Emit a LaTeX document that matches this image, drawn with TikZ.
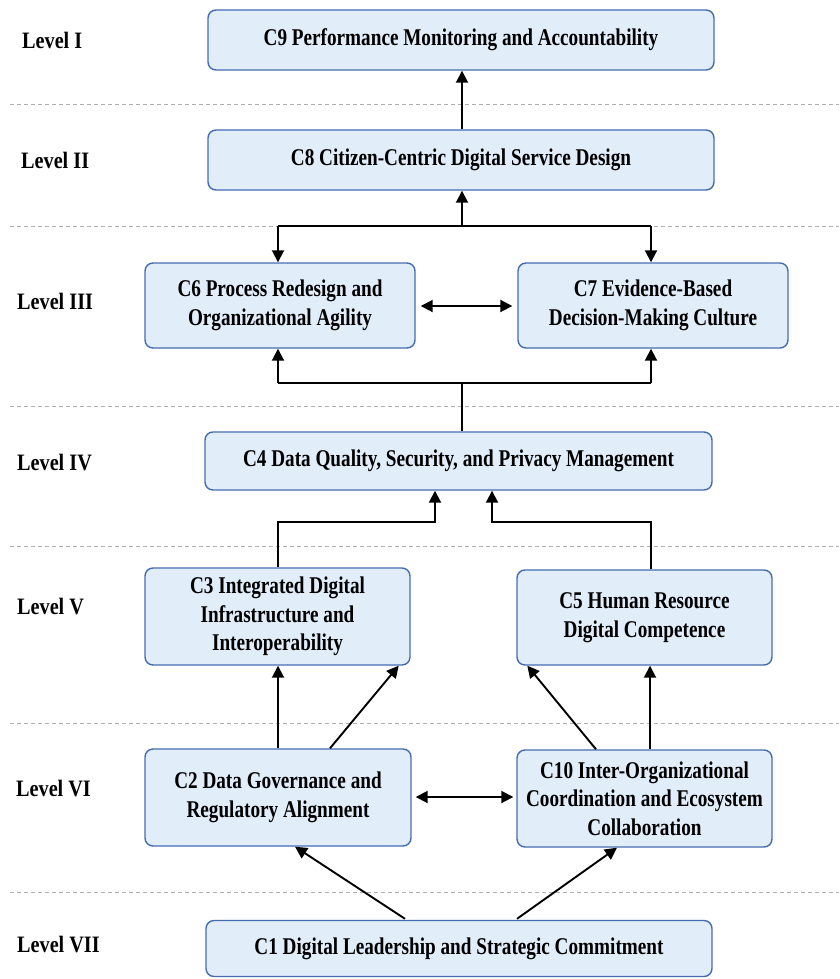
\documentclass[tikz,border=0pt]{standalone}
\usepackage{fontspec}
\setmainfont{Liberation Serif}[FakeStretch=0.8]
\newfontfamily\lvlfont{Liberation Serif}[FakeStretch=0.86]
\usetikzlibrary{arrows.meta,calc}
\definecolor{boxfill}{RGB}{226,237,250}
\definecolor{boxblue}{RGB}{70,108,176}
\definecolor{sepgray}{RGB}{175,175,175}
\begin{document}
\begin{tikzpicture}[x=1pt,y=-1pt,
  box/.style={draw=boxblue, line width=1.4pt, fill=boxfill, rounded corners=8pt, align=center,
    font=\fontsize{24}{28.5}\selectfont\bfseries, inner sep=0pt},
  conn/.style={line width=1.9pt, -{Triangle[length=12pt,width=12pt]}},
  plain/.style={line width=1.9pt},
  twoway/.style={line width=1.9pt, {Triangle[length=12pt,width=12pt]}-{Triangle[length=12pt,width=12pt]}},
  sep/.style={draw=sepgray, line width=1pt, dash pattern=on 4pt off 3pt},
  lvl/.style={anchor=west, inner sep=0pt, font=\lvlfont\fontsize{23.5}{26}\selectfont\bfseries}]
\useasboundingbox (0,0) rectangle (839,979);
\fill[white] (0,0) rectangle (839,979);

% separators
\foreach \yy in {105,226,406,546,723,892}
  \draw[sep] (10,\yy) -- (839,\yy);

% level labels
\node[lvl] (l1) at (22,40) {Level I};
\node[lvl] (l2) at (21,160) {Level II};
\node[lvl] (l3) at (17,301) {Level III};
\node[lvl] (l4) at (17,463) {Level IV};
\node[lvl] (l5) at (17,607) {Level V};
\node[lvl] (l6) at (16,789) {Level VI};
\node[lvl] (l7) at (17,945) {Level VII};

% boxes
\node[box, minimum width=506pt, minimum height=60pt] (c9) at (461,40) {C9 Performance Monitoring and Accountability};
\node[box, minimum width=506pt, minimum height=60pt] (c8) at (461,160) {C8 Citizen-Centric Digital Service Design};
\node[box, minimum width=270pt, minimum height=85pt] (c6) at (280,305.5) {C6 Process Redesign and\\Organizational Agility};
\node[box, minimum width=270pt, minimum height=85pt] (c7) at (653,305.5) {C7 Evidence-Based\\Decision-Making Culture};
\node[box, minimum width=507pt, minimum height=58pt] (c4) at (458.5,461) {C4 Data Quality, Security, and Privacy Management};
\node[box, minimum width=265pt, minimum height=97pt] (c3) at (277.5,616.5) {C3 Integrated Digital\\Infrastructure and\\Interoperability};
\node[box, minimum width=255pt, minimum height=95pt] (c5) at (644.5,617.5) {C5 Human Resource\\Digital Competence};
\node[box, minimum width=266pt, minimum height=97pt] (c2) at (278,797.5) {C2 Data Governance and\\Regulatory Alignment};
\node[box, minimum width=255pt, minimum height=97pt] (c10) at (644.5,798.5) {C10 Inter-Organizational\\Coordination and Ecosystem\\Collaboration};
\node[box, minimum width=506pt, minimum height=56pt] (c1) at (459,948.5) {C1 Digital Leadership and Strategic Commitment};

% junction coordinates
\coordinate (jA) at (462,226);
\coordinate (jAl) at (278,226);
\coordinate (jAr) at (651,226);
\coordinate (jB) at (462,383);
\coordinate (jBl) at (278,383);
\coordinate (jBr) at (651,383);
\coordinate (jCl) at (278,522);
\coordinate (jCr) at (651,522);
\coordinate (hIII) at (0,306);
\coordinate (hVI) at (0,797);

% Level II -> I
\draw[conn] (c8.north -| 462,0) -- (c9.south -| 462,0);
% Level III -> II
\draw[conn] (jA) -- (c8.south -| jA);
\draw[plain] (jAl) -- (jAr);
\draw[conn] (jAl) -- (c6.north -| jAl);
\draw[conn] (jAr) -- (c7.north -| jAr);
\draw[twoway] ($(hIII -| c6.east)+(5,0)$) -- ($(hIII -| c7.west)+(-5,0)$);
% Level IV -> III
\draw[plain] (c4.north -| jB) -- (jB);
\draw[plain] (jBl) -- (jBr);
\draw[conn] (jBl) -- (c6.south -| jBl);
\draw[conn] (jBr) -- (c7.south -| jBr);
% Level V -> IV
\draw[conn] (c3.north -| jCl) -- (jCl) -- (jCl -| 435,0) -- (c4.south -| 435,0);
\draw[conn] (c5.north -| jCr) -- (jCr) -- (jCr -| 492,0) -- (c4.south -| 492,0);
% Level VI -> V
\draw[conn] (c2.north -| 278,0) -- (c3.south -| 278,0);
\draw[conn] (c2.north -| 330,0) -- ($(c3.south east)+(-12,0)$);
\draw[conn] (c10.north -| 596,0) -- ($(c5.south west)+(11,0)$);
\draw[conn] (c10.north -| 650,0) -- (c5.south -| 650,0);
\draw[twoway] ($(hVI -| c2.east)+(4,0)$) -- ($(hVI -| c10.west)+(-3,0)$);
% Level VII -> VI
\draw[conn] ($(c1.north)+(-54,-1)$) -- (c2.south -| 295,0);
\draw[conn] ($(c1.north)+(58,-1)$) -- (c10.south -| 617,0);
\end{tikzpicture}
\end{document}
